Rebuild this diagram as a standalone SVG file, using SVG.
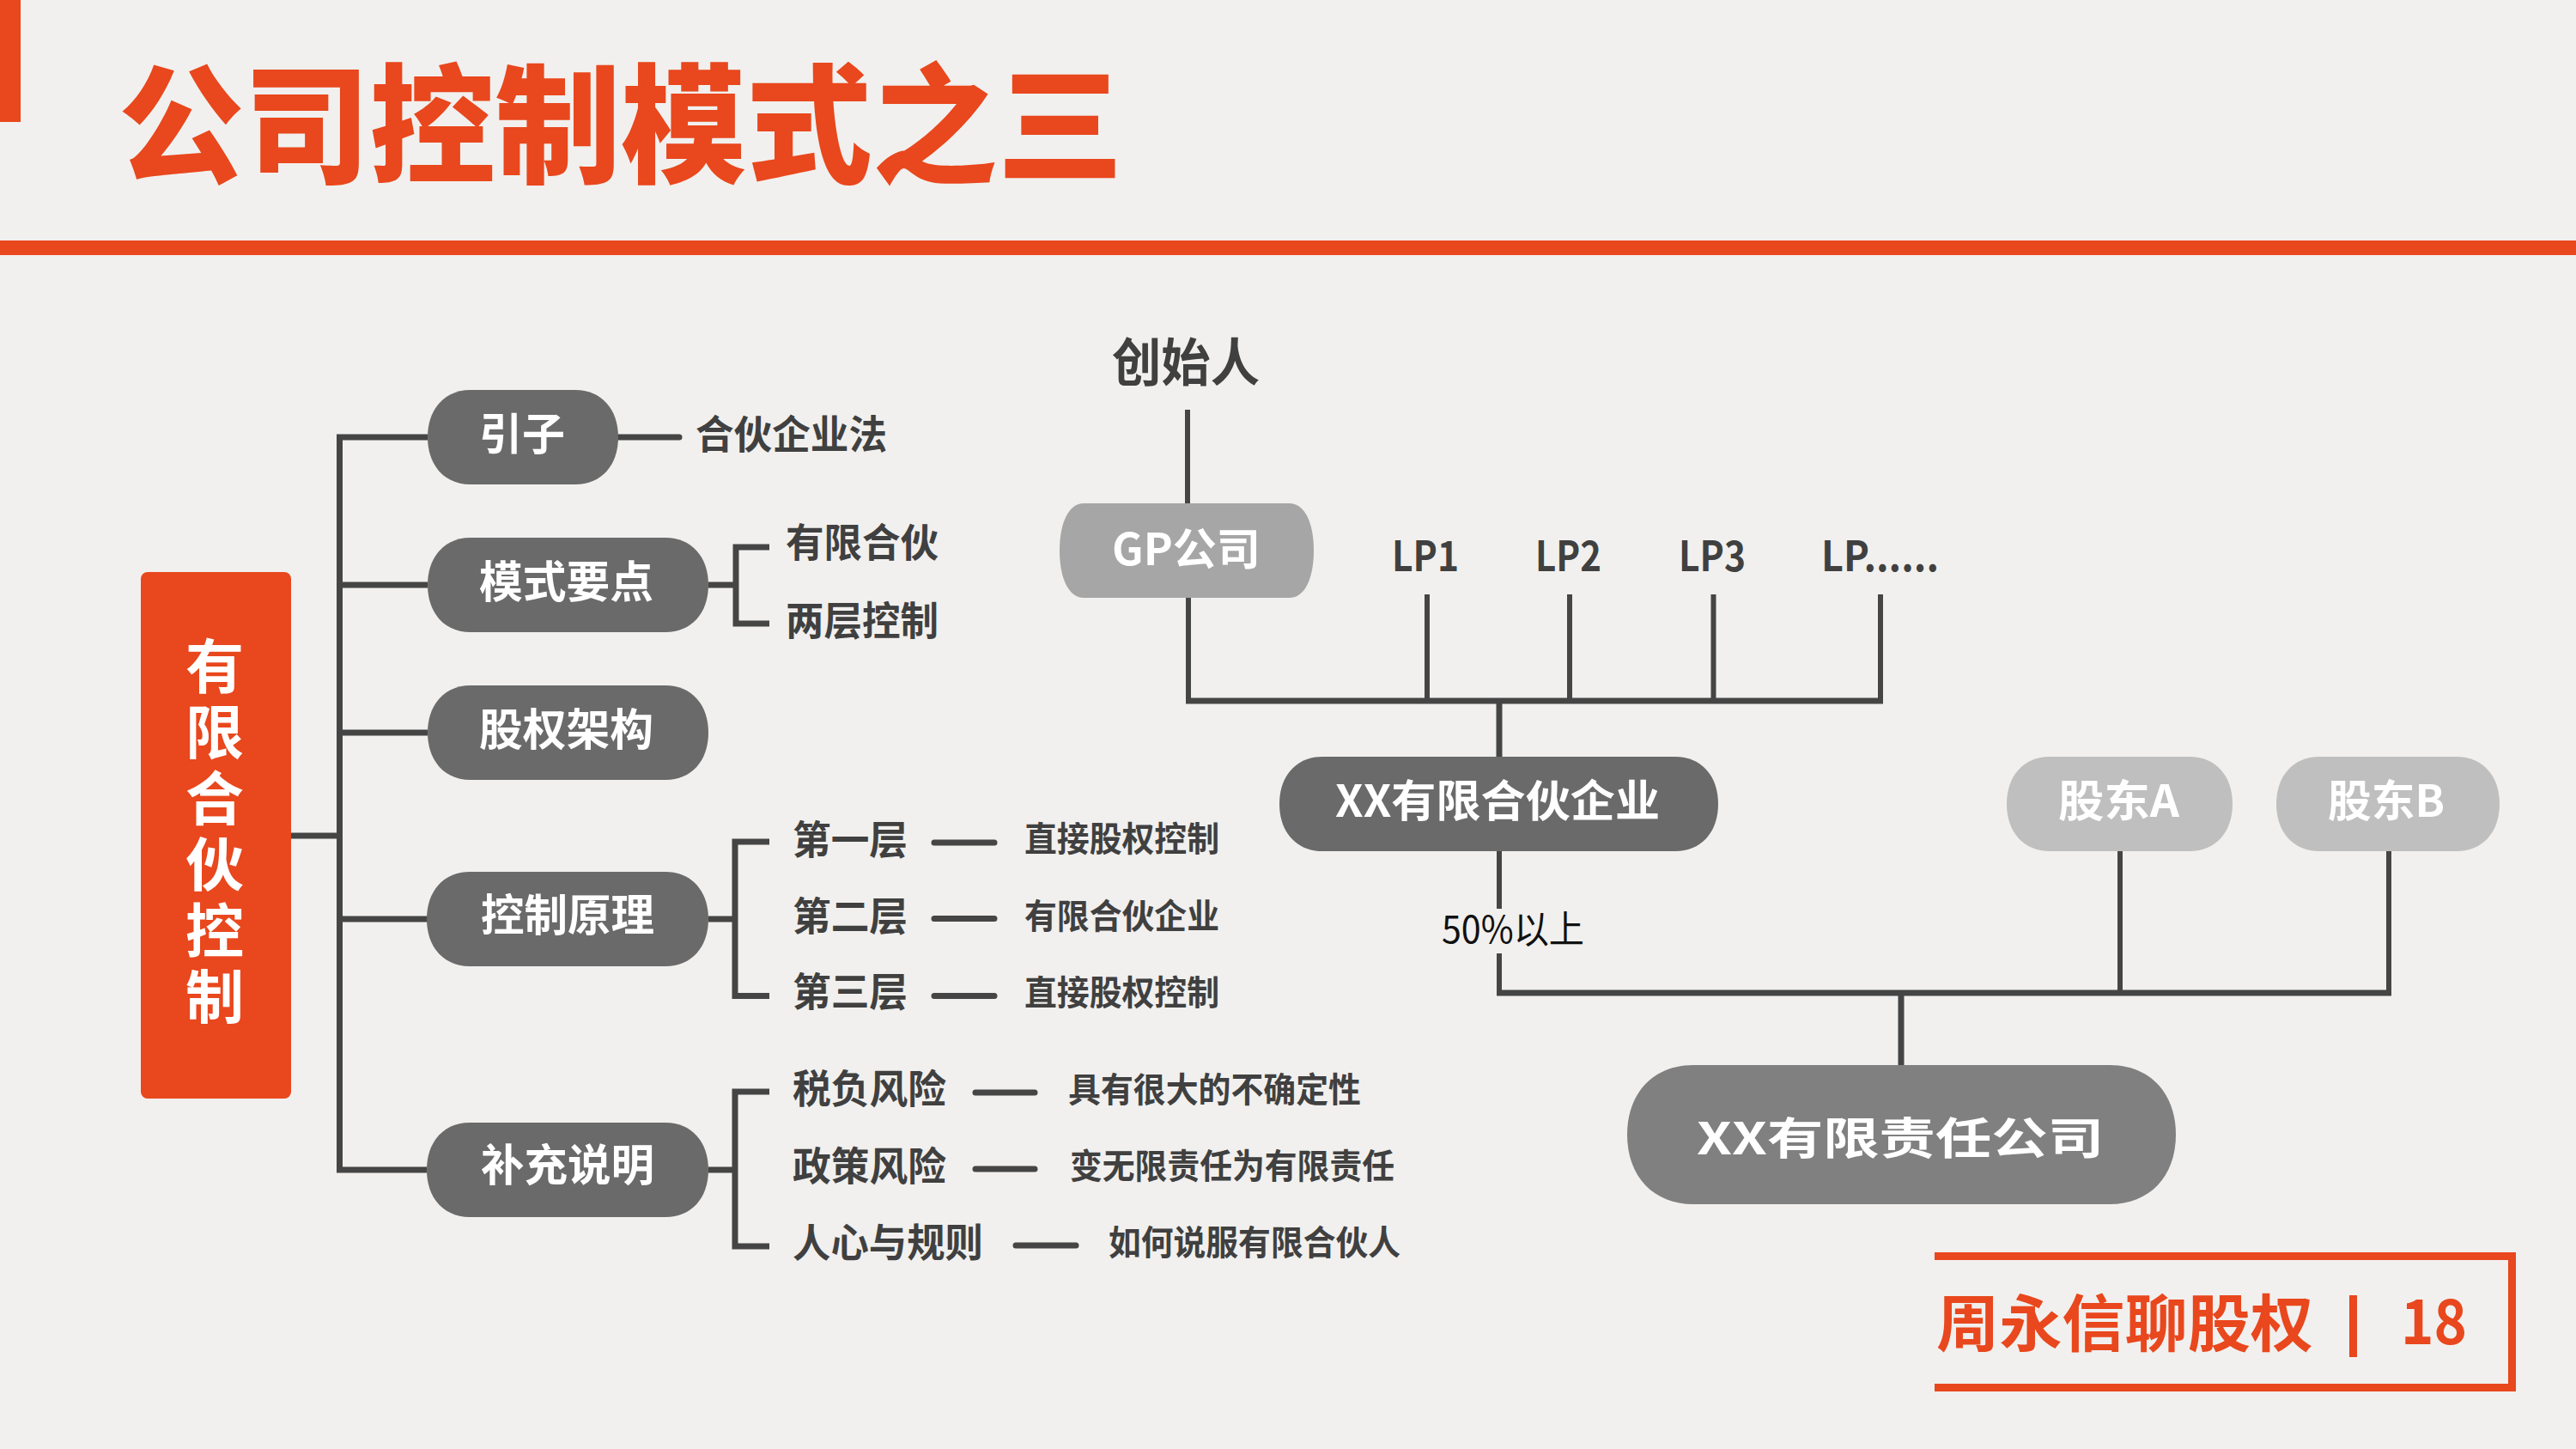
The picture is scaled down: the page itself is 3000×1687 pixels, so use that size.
<svg xmlns="http://www.w3.org/2000/svg" width="3000" height="1687" viewBox="0 0 3000 1687">
<style>
.cjk{font-family:"Noto Sans CJK SC","Noto Sans",sans-serif}
.pt{font-family:"Noto Sans CJK SC","Noto Sans",sans-serif;font-weight:700;fill:#FFFFFF;font-size:51px}
.lb{font-family:"Noto Sans CJK SC","Noto Sans",sans-serif;font-weight:700;fill:#404040;font-size:46px}
.ls{font-family:"Noto Sans CJK SC","Noto Sans",sans-serif;font-weight:700;fill:#404040;font-size:40px}
.ln{fill:none;stroke:#454545;stroke-width:7;stroke-linecap:butt;stroke-linejoin:miter}
.lt{fill:none;stroke:#454545;stroke-width:6}
.dash{fill:none;stroke:#454545;stroke-width:7;stroke-linecap:round}
.dk{fill:#6A6A6A}
.or{fill:#E9471D}
</style>
<rect x="0" y="0" width="3000" height="1687" fill="#F1F0EE"/>
<g id="header">
<rect x="0" y="0" width="24" height="142" class="or"/>
<text x="138" y="201" class="cjk" font-size="150" font-weight="900" fill="#E9471D" textLength="1170" lengthAdjust="spacingAndGlyphs">公司控制模式之三</text>
<rect x="0" y="280" width="3000" height="17" class="or"/>
</g>
<g id="connectors">
<path class="ln" d="M338,973 H395.5 M395.5,508 V1365.5 M392,509 H498 M392,681 H498 M392,853 H498 M392,1070 H498 M392,1362 H497"/>
<path class="dash" d="M720,509 H791"/>
<path class="ln" d="M825,681 H857 M857,634 V729.5 M853.5,637 H896 M853.5,726 H896"/>
<path class="ln" d="M825,1070 H856 M856,976.5 V1163 M852.5,980 H896 M852.5,1159.5 H896"/>
<path class="ln" d="M825,1362 H856 M856,1267.5 V1454.5 M852.5,1271 H896 M852.5,1451 H896"/>
<path class="dash" d="M1088,981 H1158 M1088,1069.5 H1158 M1088,1159.5 H1158 M1136,1272 H1205 M1136,1361 H1205 M1183,1450 H1253"/>
<path class="lt" d="M1383,477 V586 M1384,696 V816 M1662,692 V816 M1828,692 V816 M1995.5,692 V816 M2190,692 V816"/>
<path class="ln" d="M1381,816 H2193 M1746,816 V881"/>
<path class="lt" d="M1746,991 V1058 M1746,1110 V1156 M2469,991 V1156 M2782,991 V1156"/>
<path class="ln" d="M1743,1156 H2785 M2214,1156 V1240"/>
</g>
<g id="n-root">
<rect x="164" y="666" width="175" height="613" rx="8" class="or"/>
<text x="250" y="741" class="cjk" font-size="68" font-weight="700" fill="#FFFFFF" writing-mode="vertical-rl" style="letter-spacing:9px">有限合伙控制</text>
</g>
<g id="n-yinzi">
<path class="dk" d="M548,454 H670 C700,454 720,476 720,509 C720,542 700,564 670,564 H548 C518,564 498,542 498,509 C498,476 518,454 548,454 Z"/>
<text x="558" y="524" class="pt" textLength="100" lengthAdjust="spacingAndGlyphs">引子</text>
</g>
<g id="n-moshi">
<path class="dk" d="M548,626 H775 C805,626 825,648 825,681 C825,714 805,736 775,736 H548 C518,736 498,714 498,681 C498,648 518,626 548,626 Z"/>
<text x="558" y="696" class="pt" textLength="203" lengthAdjust="spacingAndGlyphs">模式要点</text>
</g>
<g id="n-guquan">
<path class="dk" d="M548,798 H775 C805,798 825,820 825,853 C825,886 805,908 775,908 H548 C518,908 498,886 498,853 C498,820 518,798 548,798 Z"/>
<text x="558" y="868" class="pt" textLength="203" lengthAdjust="spacingAndGlyphs">股权架构</text>
</g>
<g id="n-kongzhi">
<path class="dk" d="M547,1015 H775 C805,1015 825,1037 825,1070 C825,1103 805,1125 775,1125 H547 C517,1125 497,1103 497,1070 C497,1037 517,1015 547,1015 Z"/>
<text x="560" y="1084" class="pt" textLength="202" lengthAdjust="spacingAndGlyphs">控制原理</text>
</g>
<g id="n-buchong">
<path class="dk" d="M547,1307 H775 C805,1307 825,1329 825,1362 C825,1395 805,1417 775,1417 H547 C517,1417 497,1395 497,1362 C497,1329 517,1307 547,1307 Z"/>
<text x="560" y="1375" class="pt" textLength="202" lengthAdjust="spacingAndGlyphs">补充说明</text>
</g>
<g id="labels-left">
<text x="810" y="522" class="lb" textLength="223" lengthAdjust="spacingAndGlyphs">合伙企业法</text>
<text x="915" y="648" class="lb" textLength="178" lengthAdjust="spacingAndGlyphs">有限合伙</text>
<text x="915" y="739" class="lb" textLength="178" lengthAdjust="spacingAndGlyphs">两层控制</text>
<text x="923" y="994" class="lb" textLength="134" lengthAdjust="spacingAndGlyphs">第一层</text>
<text x="923" y="1083" class="lb" textLength="134" lengthAdjust="spacingAndGlyphs">第二层</text>
<text x="923" y="1171" class="lb" textLength="134" lengthAdjust="spacingAndGlyphs">第三层</text>
<text x="1193" y="991" class="ls" textLength="227" lengthAdjust="spacingAndGlyphs">直接股权控制</text>
<text x="1193" y="1081" class="ls" textLength="227" lengthAdjust="spacingAndGlyphs">有限合伙企业</text>
<text x="1193" y="1170" class="ls" textLength="227" lengthAdjust="spacingAndGlyphs">直接股权控制</text>
<text x="923" y="1284" class="lb" textLength="179" lengthAdjust="spacingAndGlyphs">税负风险</text>
<text x="923" y="1374" class="lb" textLength="179" lengthAdjust="spacingAndGlyphs">政策风险</text>
<text x="923" y="1463" class="lb" textLength="222" lengthAdjust="spacingAndGlyphs">人心与规则</text>
<text x="1244" y="1283" class="ls" textLength="341" lengthAdjust="spacingAndGlyphs">具有很大的不确定性</text>
<text x="1246" y="1372" class="ls" textLength="378" lengthAdjust="spacingAndGlyphs">变无限责任为有限责任</text>
<text x="1291" y="1461" class="ls" textLength="340" lengthAdjust="spacingAndGlyphs">如何说服有限合伙人</text>
</g>
<g id="n-founder">
<text x="1295" y="444" class="cjk" font-size="60" font-weight="700" fill="#404040" textLength="172" lengthAdjust="spacingAndGlyphs">创始人</text>
</g>
<g id="n-gp">
<path fill="#A6A6A6" d="M1262,586 H1502 C1519,586 1530,608 1530,641 C1530,674 1519,696 1502,696 H1262 C1245,696 1234,674 1234,641 C1234,608 1245,586 1262,586 Z"/>
<text x="1295" y="658" class="pt" font-size="52" textLength="173" lengthAdjust="spacingAndGlyphs">GP公司</text>
</g>
<g id="n-lps" class="cjk" font-size="48" font-weight="700" fill="#404040">
<text x="1621" y="665" textLength="78" lengthAdjust="spacingAndGlyphs">LP1</text>
<text x="1788" y="665" textLength="77" lengthAdjust="spacingAndGlyphs">LP2</text>
<text x="1955" y="665" textLength="78" lengthAdjust="spacingAndGlyphs">LP3</text>
<text x="2121" y="665" textLength="137" lengthAdjust="spacingAndGlyphs">LP......</text>
</g>
<g id="n-lp-firm">
<path class="dk" d="M1540,881 H1951 C1981,881 2001,903 2001,936 C2001,969 1981,991 1951,991 H1540 C1510,991 1490,969 1490,936 C1490,903 1510,881 1540,881 Z"/>
<text x="1555" y="951" class="pt" font-size="52" textLength="378" lengthAdjust="spacingAndGlyphs">XX有限合伙企业</text>
</g>
<g id="n-sha">
<path fill="#BFBFBF" d="M2387,881 H2550 C2580,881 2600,903 2600,936 C2600,969 2580,991 2550,991 H2387 C2357,991 2337,969 2337,936 C2337,903 2357,881 2387,881 Z"/>
<text x="2397" y="951" class="pt" font-size="52" textLength="141" lengthAdjust="spacingAndGlyphs">股东A</text>
</g>
<g id="n-shb">
<path fill="#BFBFBF" d="M2701,881 H2861 C2891,881 2911,903 2911,936 C2911,969 2891,991 2861,991 H2701 C2671,991 2651,969 2651,936 C2651,903 2671,881 2701,881 Z"/>
<text x="2711" y="951" class="pt" font-size="52" textLength="136" lengthAdjust="spacingAndGlyphs">股东B</text>
</g>
<g id="edge-label">
<text x="1679" y="1098" class="cjk" font-size="44" font-weight="400" fill="#111111" textLength="166" lengthAdjust="spacingAndGlyphs">50%以上</text>
</g>
<g id="n-llc">
<path fill="#808080" d="M1972,1240 H2457 C2503,1240 2534,1272 2534,1321 C2534,1370 2503,1402 2457,1402 H1972 C1926,1402 1895,1370 1895,1321 C1895,1272 1926,1240 1972,1240 Z"/>
<text x="1976" y="1344" class="pt" font-size="66" textLength="474" lengthAdjust="spacingAndGlyphs">XX有限责任公司</text>
</g>
<g id="footer">
<path d="M2253,1462.5 H2925.5 V1615.5 H2253" fill="none" stroke="#E9471D" stroke-width="9"/>
<text x="2255" y="1567" class="cjk" font-size="72" font-weight="700" fill="#E9471D" textLength="439" lengthAdjust="spacingAndGlyphs">周永信聊股权</text>
<rect x="2736" y="1508" width="9" height="72" fill="#E9471D"/>
<text x="2796" y="1565" class="cjk" font-size="72" font-weight="700" fill="#E9471D" textLength="77" lengthAdjust="spacingAndGlyphs">18</text>
</g>
</svg>
